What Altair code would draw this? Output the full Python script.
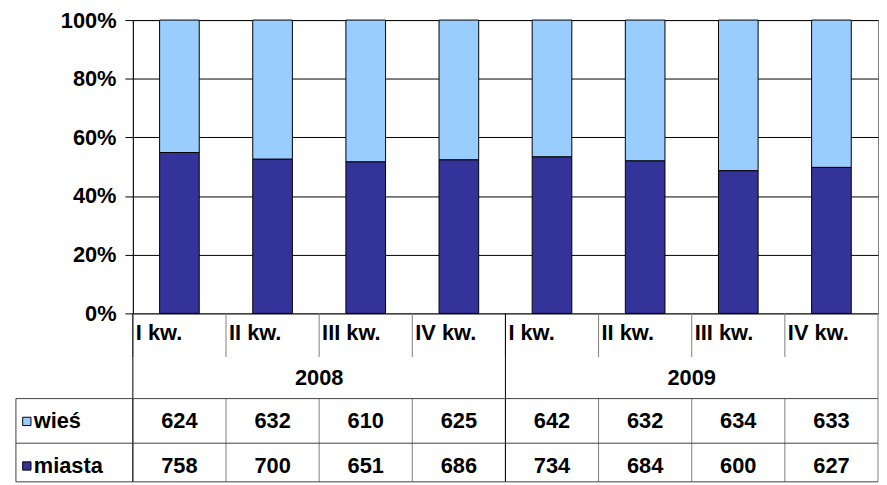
import altair as alt
import pandas as pd

years = ["2008", "2009"]
quarters = ["I kw.", "II kw.", "III kw.", "IV kw."]
series = ["wieś", "miasta"]
wies = [624, 632, 610, 625, 642, 632, 634, 633]
miasta = [758, 700, 651, 686, 734, 684, 600, 627]
colors = ["#99CCFF", "#333399"]

keys = [f"{y} {q}" for y in years for q in quarters]
qlabels = [q for y in years for q in quarters]

rows = []
for i, k in enumerate(keys):
    rows.append({"key": k, "series": "wieś", "value": wies[i], "ord": 1, "q": qlabels[i]})
    rows.append({"key": k, "series": "miasta", "value": miasta[i], "ord": 0, "q": qlabels[i]})
df = pd.DataFrame(rows)
qdf = pd.DataFrame({"key": keys, "q": qlabels})
ydf = pd.DataFrame({"key": [f"{y} {quarters[1]}" for y in years], "year": years})
kdf = pd.DataFrame({"key": keys})
ystart = pd.DataFrame({"key": [f"{y} {quarters[0]}" for y in years]})

FONT = "Liberation Sans"
W, H = 752, 296
STEP = W / len(keys)
xscale = alt.Scale(domain=keys, paddingInner=0, paddingOuter=0)
color_scale = alt.Scale(domain=series, range=colors)

def X(band=None):
    if band is None:
        return alt.X("key:N", sort=keys, scale=xscale, axis=None)
    return alt.X("key:N", sort=keys, scale=xscale, axis=None, bandPosition=band)

bars = alt.Chart(df).mark_bar(width=40, stroke="black", strokeWidth=1).encode(
    x=X(),
    y=alt.Y("value:Q", stack="normalize", title=None,
            scale=alt.Scale(domain=[0, 1]),
            axis=alt.Axis(values=[0, 0.2, 0.4, 0.6, 0.8, 1.0], format=".0%",
                          labelFont=FONT, labelFontWeight="bold", labelFontSize=22,
                          labelColor="black", labelPadding=9,
                          gridColor="black", gridWidth=1, gridOpacity=1,
                          domainColor="black", tickColor="black", tickSize=8)),
    color=alt.Color("series:N", scale=color_scale, legend=None),
    order=alt.Order("ord:Q"),
)

text_style = dict(font=FONT, fontWeight="bold", fontSize=22, color="black", baseline="middle")

qtext = alt.Chart(qdf).mark_text(align="left", dx=-STEP / 2 + 3, **text_style).encode(
    x=X(), y=alt.value(316), text="q:N")
ytext = alt.Chart(ydf).mark_text(align="center", dx=STEP / 2, **text_style).encode(
    x=X(), y=alt.value(361), text="year:N")

row_y = [405, 450]
layers = [bars, qtext, ytext]
for i, s in enumerate(series):
    sub = df[df.series == s]
    layers.append(alt.Chart(sub).mark_text(align="center", **text_style).encode(
        x=X(), y=alt.value(row_y[i]), text="value:Q"))
    leg = pd.DataFrame({"series": [s]})
    layers.append(alt.Chart(leg).mark_square(size=70, stroke="black", strokeWidth=1, opacity=1).encode(
        x=alt.value(-107), y=alt.value(row_y[i]),
        color=alt.Color("series:N", scale=color_scale, legend=None)))
    layers.append(alt.Chart(leg).mark_text(align="left", **text_style).encode(
        x=alt.value(-100), y=alt.value(row_y[i]), text="series:N"))

grey = "#808080"
# quarter-row separators
layers.append(alt.Chart(kdf).mark_rule(color=grey, strokeWidth=1).encode(
    x=X(0), y=alt.value(H), y2=alt.value(340)))
# data-row separators
layers.append(alt.Chart(kdf).mark_rule(color=grey, strokeWidth=1).encode(
    x=X(0), y=alt.value(382), y2=alt.value(466)))
# year separators (full height of table)
layers.append(alt.Chart(ystart).mark_rule(color="black", strokeWidth=1).encode(
    x=X(0), y=alt.value(H), y2=alt.value(466)))
# right border of the table
layers.append(alt.Chart(kdf.head(1)).mark_rule(color=grey, strokeWidth=1).encode(
    x=alt.value(W), y=alt.value(H), y2=alt.value(466)))
# horizontal table lines
for yy in [382, 427, 466]:
    layers.append(alt.Chart(kdf.head(1)).mark_rule(color="#404040", strokeWidth=1).encode(
        x=alt.value(-118), x2=alt.value(W), y=alt.value(yy)))
# legend column left border
layers.append(alt.Chart(kdf.head(1)).mark_rule(color="#404040", strokeWidth=1).encode(
    x=alt.value(-118), y=alt.value(382), y2=alt.value(466)))

chart = alt.layer(*layers).properties(
    width=W, height=H,
    autosize=alt.AutoSizeParams(type="none"),
    padding={"left": 126, "top": 10, "right": 1, "bottom": 170},
).configure_view(stroke=grey, strokeWidth=1)

chart.save("out.html", embed_options={"renderer": "svg", "actions": False})
